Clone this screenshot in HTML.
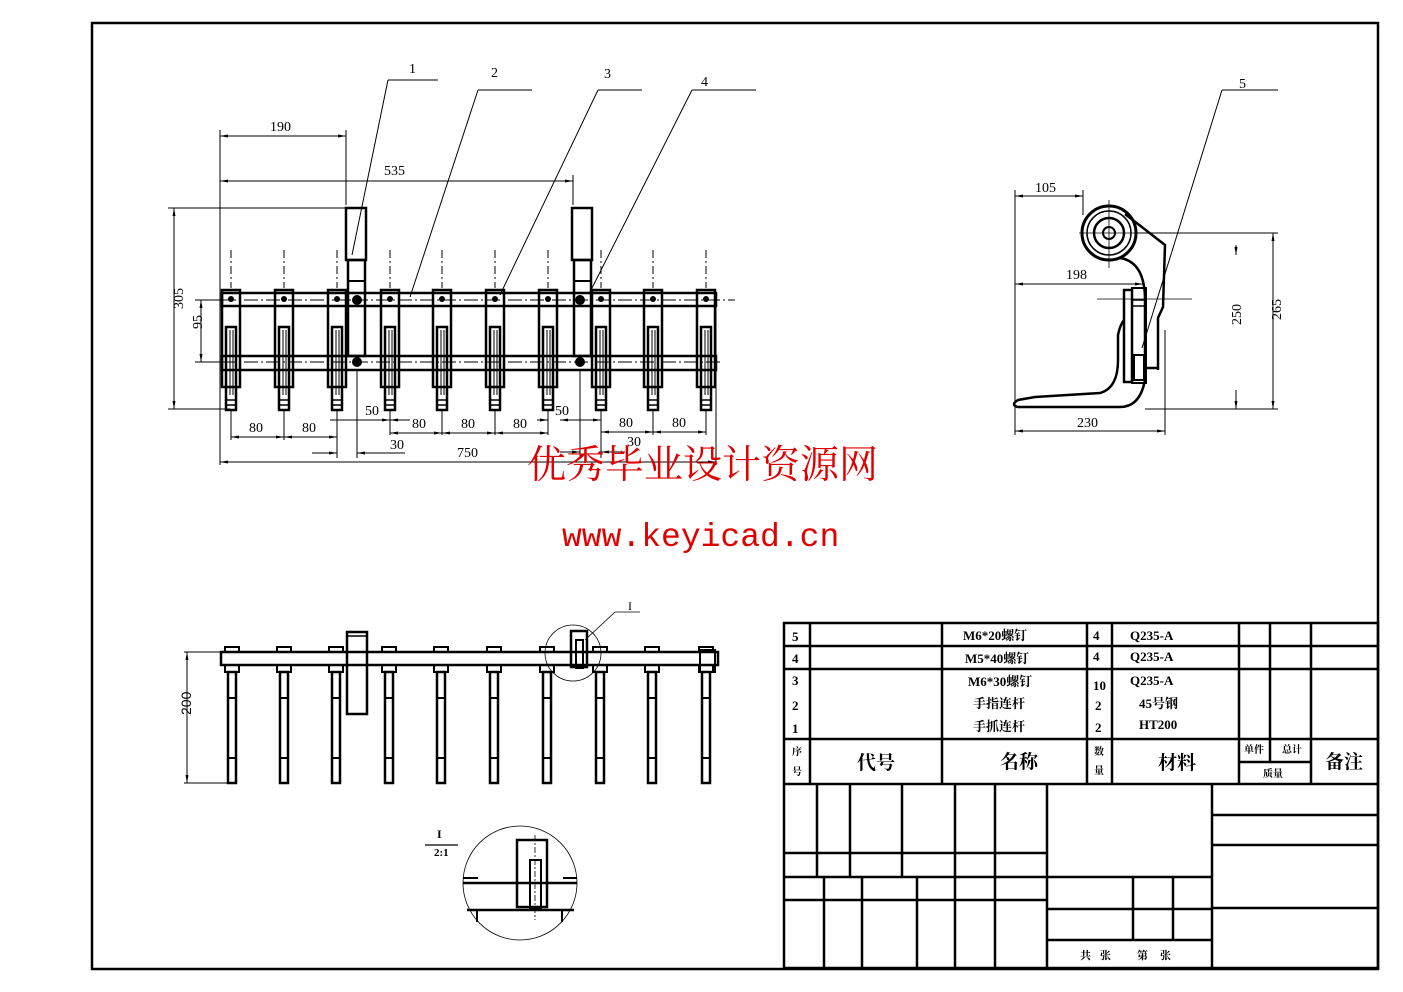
<!DOCTYPE html>
<html><head><meta charset="utf-8"><style>
html,body{margin:0;padding:0;background:#fff;}
svg{display:block;}
text{font-family:"Liberation Serif","Noto Serif CJK SC",serif;fill:#000;}
.d{font-family:"Liberation Sans",sans-serif;font-size:14px;}
.c{font-family:"Liberation Serif","Noto Sans CJK SC",serif;font-weight:bold;}
</style></head><body>
<svg width="1403" height="992" viewBox="0 0 1403 992" xmlns="http://www.w3.org/2000/svg">
<defs>
<g id="fT" fill="none" stroke="#000">
 <rect x="-9" y="290" width="18" height="97" stroke-width="2.5"/>
 <rect x="-5" y="327" width="10" height="83" stroke-width="2.5"/>
 <line x1="-1" y1="330" x2="-1" y2="395" stroke-width="1"/>
 <line x1="2" y1="330" x2="2" y2="395" stroke-width="1"/>
 <line x1="-5" y1="400" x2="5" y2="400" stroke-width="1.5"/>
 <line x1="-5" y1="405" x2="5" y2="405" stroke-width="1.5"/>
 <line x1="0" y1="250" x2="0" y2="288" stroke-width="1" stroke-dasharray="8,3,2,3"/>
 <circle cx="0" cy="299" r="3" fill="#000" stroke="none"/>
</g>
<g id="fB" fill="none" stroke="#000">
 <rect x="-7" y="647" width="14" height="5" stroke-width="2"/>
 <rect x="-7" y="665" width="14" height="7" stroke-width="2"/>
 <rect x="-4" y="672" width="8" height="111" stroke-width="2.5"/>
 <line x1="-4" y1="698" x2="4" y2="698" stroke-width="2"/>
 <line x1="-4" y1="758" x2="4" y2="758" stroke-width="2"/>
</g>
<marker id="ar" markerWidth="8" markerHeight="4" refX="8" refY="2" orient="auto-start-reverse" markerUnits="userSpaceOnUse"><path d="M0,0.5 L8,2 L0,3.5z" fill="#000"/></marker>
</defs>

<rect x="92" y="23" width="1286" height="946" fill="none" stroke="#000" stroke-width="2.5"/>

<g fill="none" stroke="#000">
 <rect x="222" y="293" width="494" height="13" stroke-width="2.5"/>
 <rect x="222" y="356" width="494" height="14" stroke-width="2.5"/>
 <line x1="200" y1="300" x2="735" y2="300" stroke-width="1" stroke-dasharray="14,3,2,3"/>
 <line x1="200" y1="362" x2="720" y2="362" stroke-width="1" stroke-dasharray="14,3,2,3"/>
 <rect x="346" y="208" width="20" height="52" stroke-width="2.5"/>
 <rect x="348" y="260" width="17" height="96" stroke-width="2.5"/>
 <line x1="348" y1="281" x2="365" y2="281" stroke-width="2"/>
 <rect x="572" y="208" width="20" height="52" stroke-width="2.5"/>
 <rect x="574" y="260" width="17" height="96" stroke-width="2.5"/>
 <line x1="574" y1="281" x2="591" y2="281" stroke-width="2"/>
</g>
<circle cx="357" cy="300" r="5"/><circle cx="357" cy="362" r="5"/>
<circle cx="580" cy="300" r="5"/><circle cx="580" cy="362" r="5"/>
<use href="#fT" x="231"/><use href="#fT" x="284"/><use href="#fT" x="337"/><use href="#fT" x="390"/><use href="#fT" x="442"/>
<use href="#fT" x="495"/><use href="#fT" x="548"/><use href="#fT" x="601"/><use href="#fT" x="653"/><use href="#fT" x="706"/>

<g stroke="#000" stroke-width="1" fill="none">
 <line x1="220" y1="130" x2="220" y2="465"/>
 <line x1="346" y1="130" x2="346" y2="205"/>
 <line x1="220" y1="136" x2="346" y2="136" marker-start="url(#ar)" marker-end="url(#ar)"/>
 <line x1="573" y1="175" x2="573" y2="205"/>
 <line x1="220" y1="181" x2="573" y2="181" marker-start="url(#ar)" marker-end="url(#ar)"/>
 <line x1="168" y1="208" x2="346" y2="208"/>
 <line x1="168" y1="409" x2="230" y2="409"/>
 <line x1="174" y1="208" x2="174" y2="409" marker-start="url(#ar)" marker-end="url(#ar)"/>
 <line x1="195" y1="300" x2="222" y2="300"/>
 <line x1="195" y1="362" x2="222" y2="362"/>
 <line x1="201" y1="300" x2="201" y2="362" marker-start="url(#ar)" marker-end="url(#ar)"/>
 <line x1="231" y1="410" x2="231" y2="440"/><line x1="284" y1="410" x2="284" y2="440"/><line x1="337" y1="410" x2="337" y2="458"/>
 <line x1="231" y1="437" x2="284" y2="437" marker-start="url(#ar)" marker-end="url(#ar)"/>
 <line x1="284" y1="437" x2="337" y2="437" marker-start="url(#ar)" marker-end="url(#ar)"/>
 <line x1="357" y1="370" x2="357" y2="458"/>
 <line x1="312" y1="453" x2="337" y2="453" marker-end="url(#ar)"/>
 <line x1="357" y1="453" x2="405" y2="453" marker-start="url(#ar)"/>
 <line x1="330" y1="420" x2="390" y2="420" marker-end="url(#ar)"/>
 <line x1="390" y1="410" x2="390" y2="435"/>
 <line x1="390" y1="420" x2="410" y2="420" marker-start="url(#ar)"/>
 <line x1="390" y1="433" x2="442" y2="433" marker-start="url(#ar)" marker-end="url(#ar)"/>
 <line x1="442" y1="410" x2="442" y2="435"/><line x1="495" y1="410" x2="495" y2="435"/><line x1="548" y1="410" x2="548" y2="435"/>
 <line x1="442" y1="433" x2="495" y2="433" marker-start="url(#ar)" marker-end="url(#ar)"/>
 <line x1="495" y1="433" x2="548" y2="433" marker-start="url(#ar)" marker-end="url(#ar)"/>
 <line x1="537" y1="420" x2="548" y2="420" marker-end="url(#ar)"/>
 <line x1="580" y1="370" x2="580" y2="458"/>
 <line x1="560" y1="420" x2="580" y2="420" marker-start="url(#ar)"/>
 <line x1="580" y1="420" x2="601" y2="420" marker-end="url(#ar)"/>
 <line x1="601" y1="410" x2="601" y2="458"/><line x1="653" y1="410" x2="653" y2="435"/><line x1="706" y1="410" x2="706" y2="435"/>
 <line x1="601" y1="432" x2="653" y2="432" marker-start="url(#ar)" marker-end="url(#ar)"/>
 <line x1="653" y1="432" x2="706" y2="432" marker-start="url(#ar)" marker-end="url(#ar)"/>
 <line x1="560" y1="452" x2="580" y2="452" marker-end="url(#ar)"/>
 <line x1="601" y1="452" x2="625" y2="452" marker-start="url(#ar)"/>
 <line x1="716" y1="300" x2="716" y2="465"/>
 <line x1="220" y1="462" x2="716" y2="462" marker-start="url(#ar)" marker-end="url(#ar)"/>
</g>
<g class="d">
 <text x="270" y="131">190</text><text x="384" y="175">535</text>
 <text x="170" y="322" transform="rotate(-90 170 309)">305</text>
 <text x="195" y="340" transform="rotate(-90 193 331)">95</text>
 <text x="249" y="432">80</text><text x="302" y="432">80</text>
 <text x="365" y="415">50</text><text x="412" y="428">80</text><text x="461" y="428">80</text><text x="513" y="428">80</text>
 <text x="555" y="415">50</text><text x="619" y="427">80</text><text x="672" y="427">80</text>
 <text x="390" y="449">30</text><text x="627" y="446">30</text><text x="457" y="457">750</text>
</g>
<g stroke="#000" stroke-width="1">
 <line x1="388" y1="80" x2="438" y2="80"/><line x1="388" y1="80" x2="352" y2="255"/>
 <line x1="478" y1="90" x2="532" y2="90"/><line x1="478" y1="90" x2="410" y2="297"/>
 <line x1="598" y1="90" x2="642" y2="90"/><line x1="598" y1="90" x2="500" y2="295"/>
 <line x1="692" y1="90" x2="756" y2="90"/><line x1="692" y1="90" x2="590" y2="292"/>
 <line x1="1222" y1="90" x2="1278" y2="90"/><line x1="1222" y1="90" x2="1142" y2="348"/>
</g>
<g class="d"><text x="409" y="73">1</text><text x="491" y="77">2</text><text x="604" y="78">3</text><text x="701" y="86">4</text><text x="1239" y="88">5</text></g>

<g fill="none" stroke="#000">
 <circle cx="1109" cy="233" r="27" stroke-width="3"/>
 <circle cx="1109" cy="233" r="22" stroke-width="1.5"/>
 <circle cx="1109" cy="233" r="15" stroke-width="2.5"/>
 <circle cx="1109" cy="233" r="6" stroke-width="2"/>
 <line x1="1079" y1="233" x2="1139" y2="233" stroke-width="0.8"/>
 <line x1="1109" y1="200" x2="1109" y2="268" stroke-width="0.8"/>
 <path d="M1125,214 L1165,245 L1163,307 L1158,318 L1158,370" stroke-width="2.5"/>
 <path d="M1120,258 Q1145,262 1145,300 L1145,380 Q1140,407 1120,407 L1018,407 Q1010,405 1018,400 L1035,397 L1100,393 Q1118,388 1118,360 L1118,335 Q1120,325 1124,320" stroke-width="2.5"/>
 <rect x="1124" y="290" width="8" height="92" stroke-width="2.5"/>
 <rect x="1132" y="288" width="14" height="95" stroke-width="2"/>
 <line x1="1132" y1="300" x2="1146" y2="300" stroke-width="1.5"/>
 <line x1="1132" y1="306" x2="1146" y2="306" stroke-width="1.5"/>
 <rect x="1134" y="355" width="10" height="25" stroke-width="2"/>
 <path d="M1146,368 L1158,368" stroke-width="2.5"/>
 <line x1="1097" y1="299" x2="1192" y2="299" stroke-width="0.8"/>
</g>
<g stroke="#000" stroke-width="1" fill="none">
 <line x1="1015" y1="190" x2="1015" y2="435"/>
 <line x1="1083" y1="190" x2="1083" y2="215"/>
 <line x1="1015" y1="196" x2="1083" y2="196" marker-start="url(#ar)" marker-end="url(#ar)"/>
 <line x1="1015" y1="284" x2="1143" y2="284" marker-start="url(#ar)" marker-end="url(#ar)"/>
 <line x1="1136" y1="233" x2="1278" y2="233"/>
 <line x1="1145" y1="409" x2="1278" y2="409"/>
 <line x1="1273" y1="233" x2="1273" y2="409" marker-start="url(#ar)" marker-end="url(#ar)"/>
 <line x1="1236" y1="245" x2="1236" y2="255" marker-end="url(#ar)"/>
 <line x1="1236" y1="390" x2="1236" y2="409" marker-end="url(#ar)"/>
 <line x1="1165" y1="330" x2="1165" y2="435"/>
 <line x1="1015" y1="431" x2="1165" y2="431" marker-start="url(#ar)" marker-end="url(#ar)"/>
</g>
<g class="d">
 <text x="1035" y="192">105</text><text x="1066" y="279">198</text><text x="1077" y="427">230</text>
 <text x="1230" y="340" transform="rotate(-90 1228 327)">250</text>
 <text x="1270" y="335" transform="rotate(-90 1268 322)">265</text>
</g>

<text x="527" y="478" style="font-family:'Noto Serif CJK SC',serif;font-size:39px;fill:#e00000;">优秀毕业设计资源网</text>
<text x="562" y="546" style="font-family:'Liberation Mono',monospace;font-size:33px;fill:#e00000;">www.keyicad.cn</text>

<g fill="none" stroke="#000">
 <rect x="221" y="652" width="497" height="13" stroke-width="2.5"/>
 <rect x="347" y="632" width="20" height="82" stroke-width="2.5"/>
 <line x1="347" y1="636" x2="367" y2="636" stroke-width="1.5"/>
 <rect x="571" y="631" width="16" height="36" stroke-width="2.5"/>
 <rect x="576" y="640" width="7" height="28" stroke-width="2"/>
 <rect x="700" y="650" width="15" height="22" stroke-width="2"/>
 <circle cx="573" cy="653" r="28" stroke-width="0.8"/>
 <line x1="585" y1="640" x2="615" y2="612" stroke-width="0.8"/>
 <line x1="615" y1="612" x2="640" y2="612" stroke-width="0.8"/>
 <line x1="184" y1="652" x2="221" y2="652" stroke-width="1"/>
 <line x1="184" y1="783" x2="230" y2="783" stroke-width="1"/>
 <line x1="187" y1="652" x2="187" y2="783" stroke-width="1" marker-start="url(#ar)" marker-end="url(#ar)"/>
</g>
<use href="#fB" x="232"/><use href="#fB" x="284"/><use href="#fB" x="336"/><use href="#fB" x="389"/><use href="#fB" x="441"/>
<use href="#fB" x="494"/><use href="#fB" x="547"/><use href="#fB" x="600"/><use href="#fB" x="652"/><use href="#fB" x="706"/>
<text class="d" x="180" y="730" transform="rotate(-90 178 717)">200</text>
<text x="628" y="610" style="font-size:12px;">I</text>

<g fill="none" stroke="#000">
 <circle cx="520" cy="883" r="57" stroke-width="0.8"/>
 <line x1="425" y1="845" x2="458" y2="845" stroke-width="1.2"/>
 <rect x="517" y="840" width="30" height="67" stroke-width="2.5"/>
 <rect x="530" y="860" width="11" height="48" stroke-width="2"/>
 <line x1="463" y1="883" x2="577" y2="883" stroke-width="2.5"/>
 <line x1="467" y1="910" x2="574" y2="910" stroke-width="2.5"/>
 <line x1="535" y1="835" x2="535" y2="920" stroke-width="0.8" stroke-dasharray="6,2,2,2"/>
 <line x1="477" y1="910" x2="477" y2="922" stroke-width="2"/>
 <line x1="562" y1="910" x2="562" y2="922" stroke-width="2"/>
 <line x1="463" y1="878" x2="478" y2="878" stroke-width="2"/>
 <line x1="563" y1="878" x2="577" y2="878" stroke-width="2"/>
</g>
<text x="437" y="838" style="font-size:12px;font-weight:bold;">I</text>
<text x="434" y="856" style="font-size:11px;font-weight:bold;">2:1</text>

<g stroke="#000" stroke-width="2.5" fill="none">
 <rect x="784" y="623" width="594" height="345"/>
 <line x1="784" y1="646" x2="1378" y2="646"/>
 <line x1="784" y1="669" x2="1378" y2="669"/>
 <line x1="784" y1="739" x2="1378" y2="739"/>
 <line x1="784" y1="784" x2="1378" y2="784"/>
 <line x1="810" y1="623" x2="810" y2="784"/>
 <line x1="942" y1="623" x2="942" y2="784"/>
 <line x1="1087" y1="623" x2="1087" y2="784"/>
 <line x1="1112" y1="623" x2="1112" y2="784"/>
 <line x1="1239" y1="623" x2="1239" y2="784"/>
 <line x1="1270" y1="623" x2="1270" y2="762"/>
 <line x1="1311" y1="623" x2="1311" y2="784"/>
 <line x1="1239" y1="762" x2="1311" y2="762"/>
 <line x1="784" y1="853" x2="1047" y2="853"/>
 <line x1="784" y1="877" x2="1212" y2="877"/>
 <line x1="784" y1="900" x2="1047" y2="900"/>
 <line x1="1047" y1="909" x2="1212" y2="909"/>
 <line x1="1047" y1="940" x2="1212" y2="940"/>
 <line x1="1212" y1="815" x2="1378" y2="815"/>
 <line x1="1212" y1="845" x2="1378" y2="845"/>
 <line x1="1212" y1="908" x2="1378" y2="908"/>
 <line x1="817" y1="784" x2="817" y2="877"/>
 <line x1="850" y1="784" x2="850" y2="877"/>
 <line x1="902" y1="784" x2="902" y2="877"/>
 <line x1="955" y1="784" x2="955" y2="968"/>
 <line x1="995" y1="784" x2="995" y2="968"/>
 <line x1="1047" y1="784" x2="1047" y2="968"/>
 <line x1="824" y1="877" x2="824" y2="968"/>
 <line x1="862" y1="877" x2="862" y2="968"/>
 <line x1="917" y1="877" x2="917" y2="968"/>
 <line x1="1133" y1="877" x2="1133" y2="940"/>
 <line x1="1173" y1="877" x2="1173" y2="940"/>
 <line x1="1212" y1="784" x2="1212" y2="968"/>
</g>
<g class="c" style="font-size:13px;">
 <text x="792" y="641">5</text><text x="792" y="663">4</text>
 <text x="792" y="685">3</text><text x="792" y="710">2</text><text x="792" y="733">1</text>
 <text x="963" y="640">M6*20螺钉</text><text x="965" y="663">M5*40螺钉</text>
 <text x="968" y="686">M6*30螺钉</text><text x="973" y="708">手指连杆</text><text x="973" y="731">手抓连杆</text>
 <text x="1093" y="640">4</text><text x="1093" y="661">4</text>
 <text x="1093" y="690">10</text><text x="1095" y="710">2</text><text x="1095" y="732">2</text>
 <text x="1130" y="640">Q235-A</text><text x="1130" y="661">Q235-A</text><text x="1130" y="685">Q235-A</text>
 <text x="1139" y="708">45号钢</text><text x="1139" y="729">HT200</text>
</g>
<g class="c">
 <text x="792" y="755" style="font-size:10px;">序</text><text x="792" y="775" style="font-size:10px;">号</text>
 <text x="857" y="769" style="font-size:19px;">代号</text>
 <text x="1000" y="768" style="font-size:19px;">名称</text>
 <text x="1094" y="755" style="font-size:10px;">数</text><text x="1094" y="774" style="font-size:10px;">量</text>
 <text x="1158" y="769" style="font-size:19px;">材料</text>
 <text x="1244" y="753" style="font-size:10px;">单件</text><text x="1282" y="753" style="font-size:10px;">总计</text>
 <text x="1263" y="777" style="font-size:10px;">质量</text>
 <text x="1325" y="768" style="font-size:19px;">备注</text>
 <text x="1080" y="959" style="font-size:11px;">共</text><text x="1100" y="959" style="font-size:11px;">张</text>
 <text x="1137" y="959" style="font-size:11px;">第</text><text x="1160" y="959" style="font-size:11px;">张</text>
</g>
</svg>
</body></html>
